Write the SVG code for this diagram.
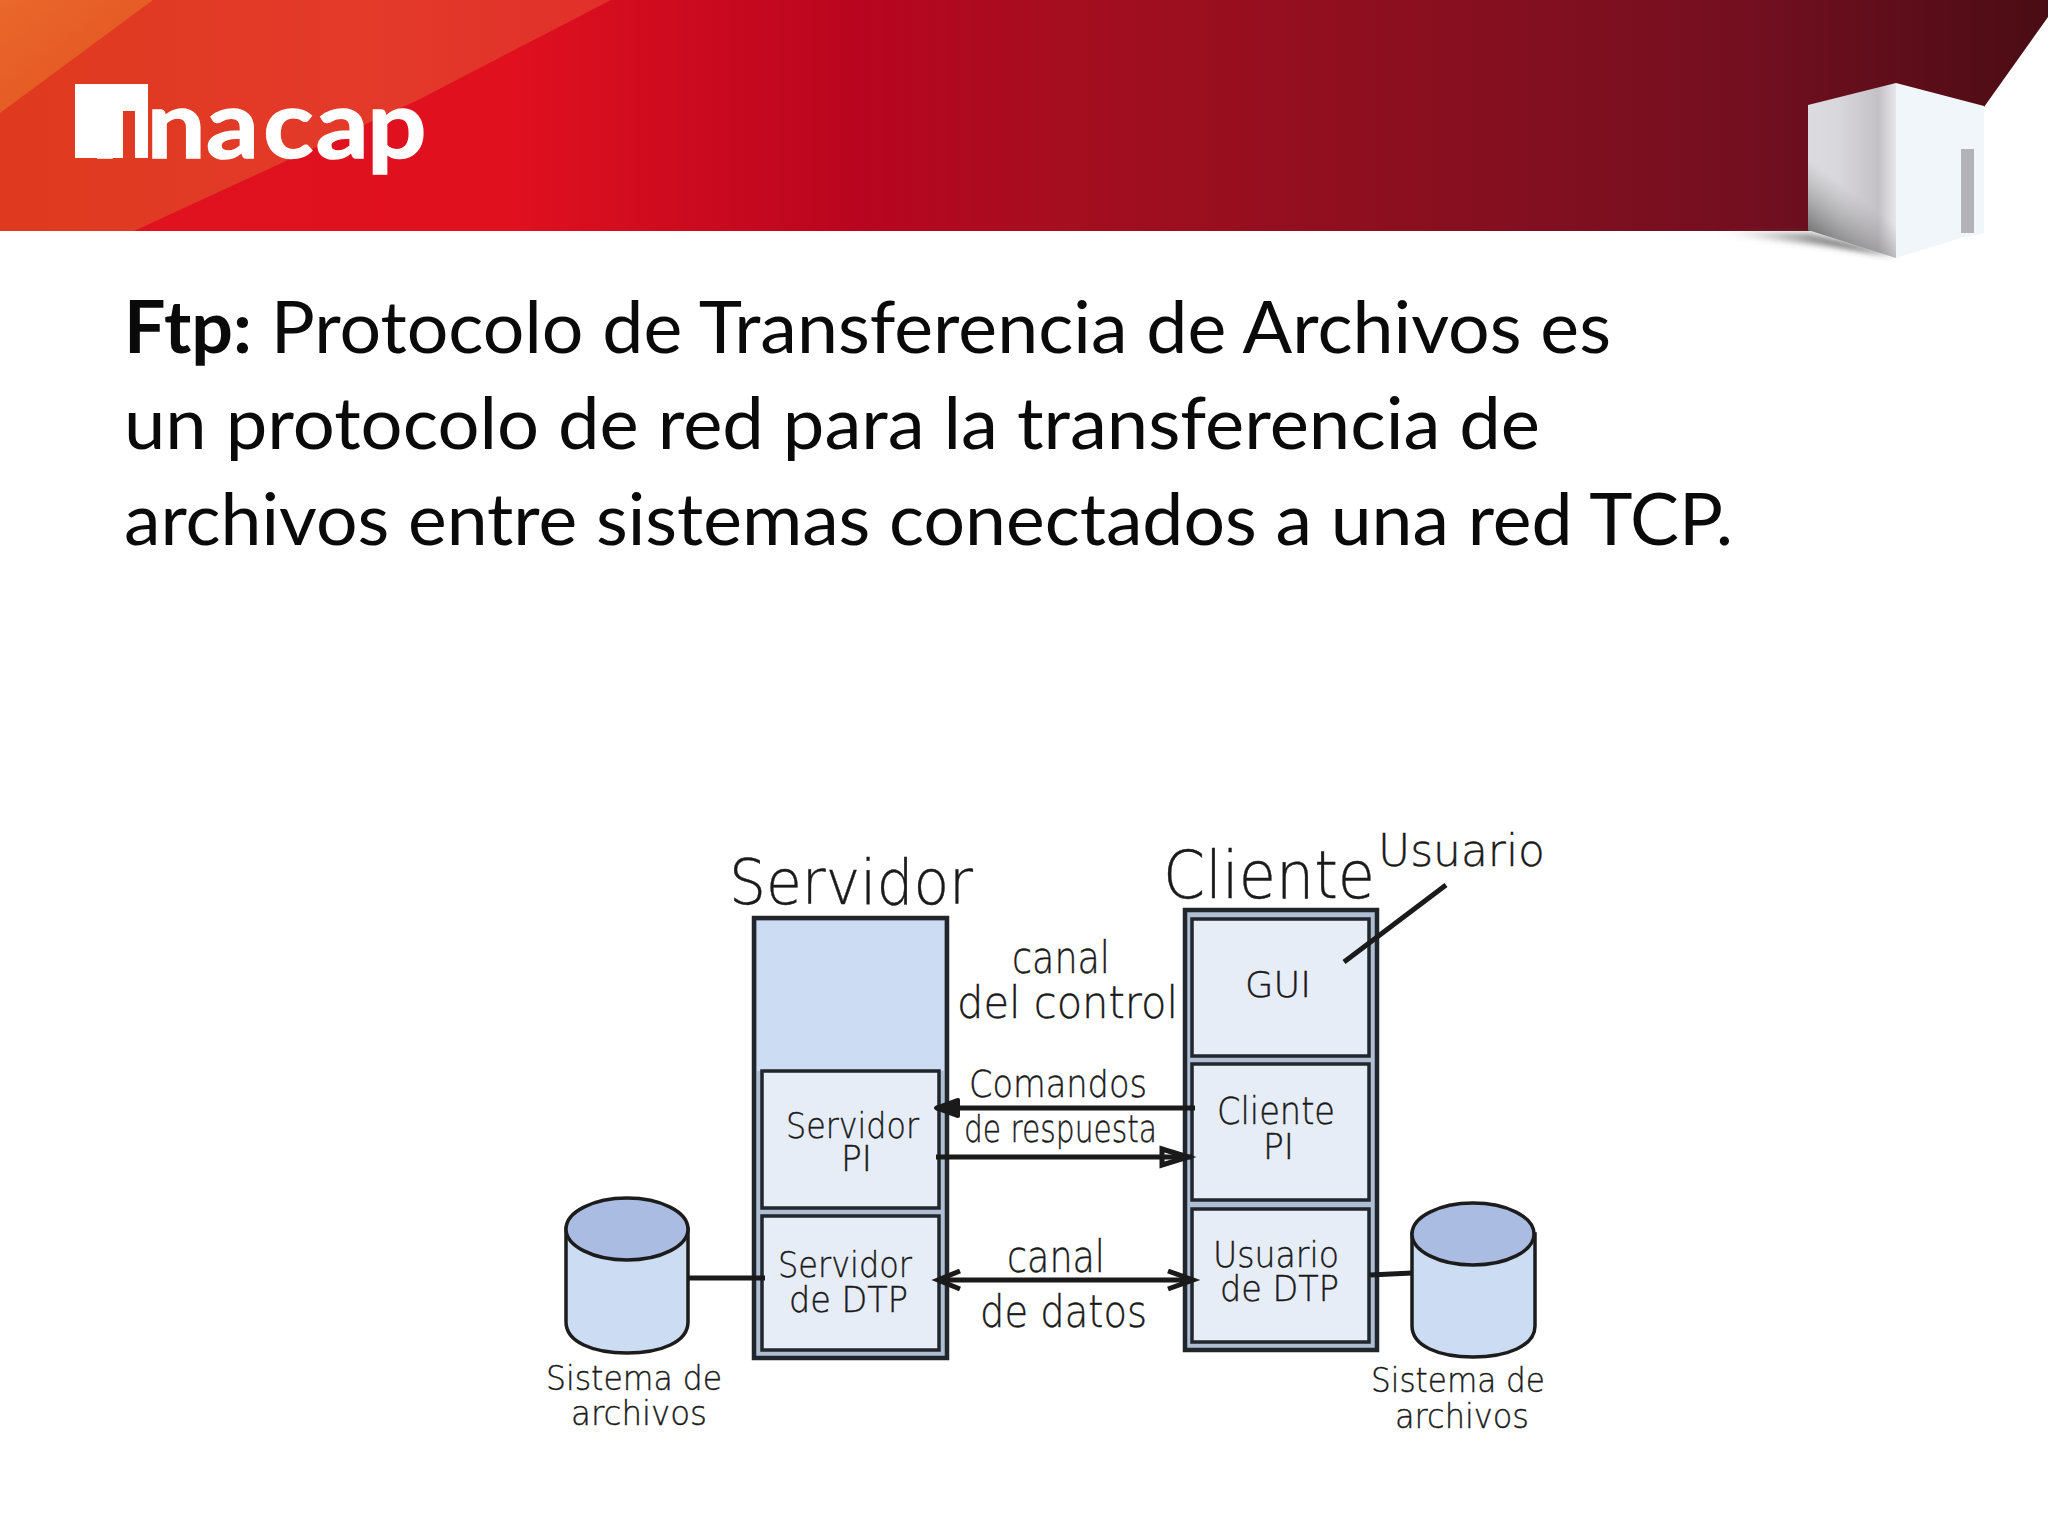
<svg xmlns="http://www.w3.org/2000/svg" width="2048" height="1536" viewBox="0 0 2048 1536">
<style>
.h{font-family:"Lato","Liberation Sans",sans-serif;font-size:72px;fill:#0a0a0a}
.b{font-weight:700}
.t{font-family:"DejaVu Sans","Liberation Sans",sans-serif;font-weight:200;fill:#1a1a1a;stroke:#1a1a1a;stroke-width:.4}
.outer{fill:#aebed3;stroke:#20262c;stroke-width:4.5}
.inner{fill:#e7edf7;stroke:#20262c;stroke-width:3.5}
.body{fill:#cbdcf3;stroke:#1c1c1c;stroke-width:3.5}
.top{fill:#abbce2;stroke:#1c1c1c;stroke-width:3.5}
.l{fill:none;stroke:#1a1a1a;stroke-width:5}
.hd{fill:none;stroke:#1a1a1a;stroke-width:5}
</style>
<defs>
<linearGradient id="g" x1="0" x2="1" y1="0" y2="0">
<stop offset="0" stop-color="#e0131f"/><stop offset=".25" stop-color="#e0101f"/><stop offset=".42" stop-color="#b9051f"/><stop offset=".52" stop-color="#a50e1f"/><stop offset=".68" stop-color="#8c0f1f"/><stop offset=".85" stop-color="#740f20"/><stop offset="1" stop-color="#4a0c14"/>
</linearGradient>
<linearGradient id="o" x1="0" x2="1" y1="0" y2="0"><stop offset="0" stop-color="#df3a1f"/><stop offset=".6" stop-color="#e33a2a"/><stop offset="1" stop-color="#e1302a"/></linearGradient>
<linearGradient id="c" x1="0" x2="1" y1="0" y2="1"><stop offset="0" stop-color="#e9682b"/><stop offset="1" stop-color="#e2501f"/></linearGradient>
<linearGradient id="lf" x1="0" x2="1" y1="0" y2="0"><stop offset="0" stop-color="#dcdce0"/><stop offset=".35" stop-color="#d8d7db"/><stop offset=".8" stop-color="#c4c1c6"/><stop offset="1" stop-color="#e6e6ea"/></linearGradient>
<linearGradient id="dk" gradientUnits="userSpaceOnUse" x1="1812" y1="240" x2="1850" y2="190"><stop offset="0" stop-color="#555" stop-opacity=".85"/><stop offset="1" stop-color="#888" stop-opacity="0"/></linearGradient>
<linearGradient id="sh" x1="0" x2="1" y1="0" y2="0"><stop offset="0" stop-color="#777" stop-opacity="0"/><stop offset=".9" stop-color="#333"/></linearGradient>
<filter id="bl" x="-10%" y="-30%" width="120%" height="160%"><feGaussianBlur stdDeviation="3"/></filter>
</defs>
<rect width="2048" height="1536" fill="#fff"/>
<g id="banner">
<rect width="2048" height="231" fill="url(#g)"/>
<polygon points="0,0 611,0 418,100 134,231 0,231" fill="url(#o)"/>
<polygon points="0,0 153,0 0,113" fill="url(#c)"/>
<polygon points="2048,17 2048,240 1984,240 1984,107" fill="#fff"/>
<polygon points="1712,232 1810,233 1896,256 1830,246" fill="url(#sh)" filter="url(#bl)"/>
<polygon points="1808,105 1896,83 1896,258 1808,230" fill="url(#lf)"/>
<polygon points="1808,105 1896,83 1896,258 1808,230" fill="url(#dk)"/>
<polygon points="1896,83 1984,106 1984,233 1961,238 1896,258" fill="#f1f6fb"/>
<rect x="1961" y="149" width="13" height="84" fill="#b2b2b8"/>
</g>
<g id="logo">
<text transform="translate(0,158) scale(1.12,1)" font-family="Lato,'Liberation Sans',sans-serif" font-weight="700" font-size="93" fill="#fff" stroke="#fff" stroke-width="1.5" x="80 131 184 235 282 328" y="0">Inacap</text>
<path d="M75 84H148V158H135V111H123V158H75Z" fill="#fff"/>
</g>
<g id="heading">
<text class="h" x="124" y="353" textLength="1487" lengthAdjust="spacingAndGlyphs"><tspan class="b">Ftp:</tspan> Protocolo de Transferencia de Archivos es</text>
<text class="h" x="124" y="449" textLength="1416" lengthAdjust="spacingAndGlyphs">un protocolo de red para la transferencia de</text>
<text class="h" x="124" y="545" textLength="1609" lengthAdjust="spacingAndGlyphs">archivos entre sistemas conectados a una red TCP.</text>
</g>
<g id="servidor">
<rect class="outer" x="754" y="918" width="193" height="440"/>
<rect x="757" y="921" width="187" height="150" fill="#cbdcf3"/>
<text class="t" x="729" y="904" font-size="62" textLength="244" lengthAdjust="spacingAndGlyphs">Servidor</text>
</g>
<g id="servidor-pi">
<rect class="inner" x="762" y="1071" width="177" height="137"/>
<text class="t" x="786" y="1138" font-size="35" textLength="133" lengthAdjust="spacingAndGlyphs">Servidor</text>
<text class="t" x="841" y="1171" font-size="35" textLength="31" lengthAdjust="spacingAndGlyphs">PI</text>
</g>
<g id="servidor-dtp">
<rect class="inner" x="762" y="1216" width="177" height="134"/>
<text class="t" x="778" y="1277" font-size="35" textLength="134" lengthAdjust="spacingAndGlyphs">Servidor</text>
<text class="t" x="789" y="1312" font-size="35" textLength="119" lengthAdjust="spacingAndGlyphs">de DTP</text>
</g>
<g id="cliente">
<rect class="outer" x="1185" y="910" width="192" height="440"/>
<text class="t" x="1163" y="898" font-size="66" textLength="212" lengthAdjust="spacingAndGlyphs">Cliente</text>
</g>
<g id="gui">
<rect class="inner" x="1192" y="919" width="177" height="137"/>
<text class="t" x="1245" y="997" font-size="35" textLength="66" lengthAdjust="spacingAndGlyphs">GUI</text>
</g>
<g id="cliente-pi">
<rect class="inner" x="1192" y="1064" width="177" height="136"/>
<text class="t" x="1217" y="1124" font-size="37" textLength="118" lengthAdjust="spacingAndGlyphs">Cliente</text>
<text class="t" x="1263" y="1159" font-size="35" textLength="31" lengthAdjust="spacingAndGlyphs">PI</text>
</g>
<g id="usuario-dtp">
<rect class="inner" x="1192" y="1209" width="177" height="133"/>
<text class="t" x="1213" y="1267" font-size="35" textLength="126" lengthAdjust="spacingAndGlyphs">Usuario</text>
<text class="t" x="1220" y="1301" font-size="35" textLength="119" lengthAdjust="spacingAndGlyphs">de DTP</text>
</g>
<g id="fs-servidor">
<path class="body" d="M566 1229V1322C566 1342 593 1353 627 1353C661 1353 688 1342 688 1322V1229Z"/>
<ellipse class="top" cx="627" cy="1229" rx="61" ry="31"/>
<text class="t" x="546" y="1390" font-size="34" textLength="176" lengthAdjust="spacingAndGlyphs">Sistema de</text>
<text class="t" x="571" y="1425" font-size="34" textLength="136" lengthAdjust="spacingAndGlyphs">archivos</text>
</g>
<g id="fs-cliente">
<path class="body" d="M1412 1234V1326C1412 1346 1439 1357 1473 1357C1507 1357 1535 1346 1535 1326V1234Z"/>
<ellipse class="top" cx="1473" cy="1234" rx="61" ry="31"/>
<text class="t" x="1371" y="1392" font-size="34" textLength="174" lengthAdjust="spacingAndGlyphs">Sistema de</text>
<text class="t" x="1395" y="1428" font-size="34" textLength="134" lengthAdjust="spacingAndGlyphs">archivos</text>
</g>
<g id="usuario">
<text class="t" x="1378" y="866" font-size="45" textLength="167" lengthAdjust="spacingAndGlyphs">Usuario</text>
</g>
<g id="labels">
<text class="t" x="1012" y="973" font-size="45" textLength="98" lengthAdjust="spacingAndGlyphs">canal</text>
<text class="t" x="957" y="1018" font-size="45" textLength="221" lengthAdjust="spacingAndGlyphs">del control</text>
<text class="t" x="969" y="1097" font-size="38" textLength="178" lengthAdjust="spacingAndGlyphs">Comandos</text>
<text class="t" x="964" y="1142" font-size="38" textLength="193" lengthAdjust="spacingAndGlyphs">de respuesta</text>
<text class="t" x="1007" y="1272" font-size="45" textLength="98" lengthAdjust="spacingAndGlyphs">canal</text>
<text class="t" x="980" y="1327" font-size="45" textLength="167" lengthAdjust="spacingAndGlyphs">de datos</text>
</g>
<g id="connectors">
<line class="l" x1="936" y1="1108" x2="1195" y2="1108"/>
<polygon points="936,1108 958,1100 958,1116" fill="#1a1a1a" stroke="#1a1a1a" stroke-width="4" stroke-linejoin="round"/>
<line class="l" x1="936" y1="1157" x2="1192" y2="1157"/>
<polygon class="hd" points="1188,1157 1162,1149 1162,1165"/>
<line class="l" x1="938" y1="1280" x2="1193" y2="1280"/>
<path class="hd" d="M960 1271L938 1280L960 1289M1168 1271L1193 1280L1168 1289"/>
<line class="l" x1="688" y1="1278" x2="765" y2="1278"/>
<line class="l" x1="1370" y1="1275" x2="1412" y2="1273"/>
<line class="l" x1="1446" y1="885" x2="1344" y2="962"/>
</g>
</svg>
